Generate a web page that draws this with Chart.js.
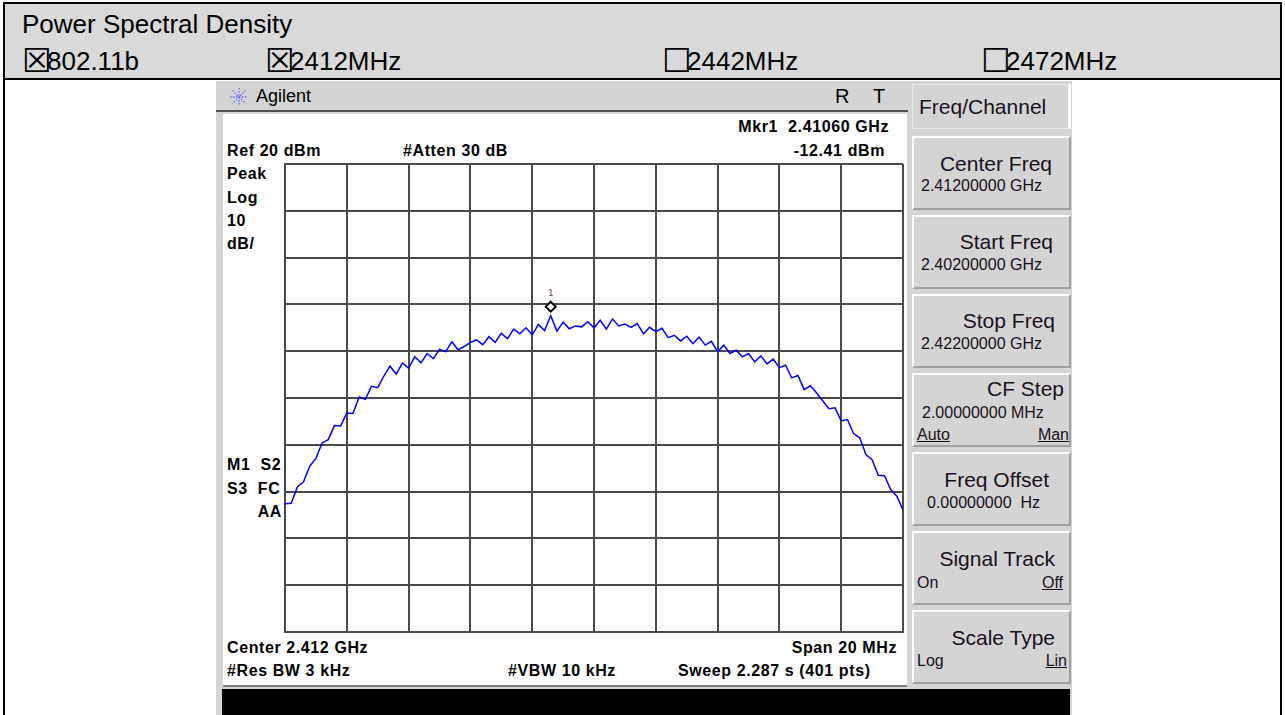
<!DOCTYPE html>
<html>
<head>
<meta charset="utf-8">
<script src="https://cdn.jsdelivr.net/npm/chart.js@4.4.0/dist/chart.umd.min.js"></script>
<style>
body { margin:0; width:1285px; height:715px; overflow:hidden; background:#fff; position:relative;
       font-family:"Liberation Sans", Arial, sans-serif; color:#000; }
.a { position:absolute; white-space:nowrap; }
.hdr { font-size:26px; line-height:30px; }
.cb { font-family:"DejaVu Sans"; font-size:33px; display:inline-block; width:25px; position:relative; top:2px; }
.lbl { font-weight:bold; font-size:16px; letter-spacing:0.6px; line-height:18px; }
.key { position:absolute; left:912px; width:159px; height:74px; background:#d4d4d4; box-sizing:border-box;
       border-top:2px solid #fff; border-left:2px solid #fff; border-right:2px solid #a0a0a0; border-bottom:2px solid #a0a0a0; }
.kt { font-size:21px; line-height:24px; color:#1a1020; }
.kv { font-size:16px; line-height:18px; color:#1a1020; }
.u { text-decoration:underline; }
</style>
</head>
<body>
<!-- table frame -->
<div class="a" style="left:5px;top:4px;width:1275px;height:74px;background:#d9d9d9"></div>
<div class="a" style="left:3px;top:2px;width:1279px;height:2px;background:#000"></div>
<div class="a" style="left:3px;top:78px;width:1279px;height:2px;background:#000"></div>
<div class="a" style="left:3px;top:2px;width:2px;height:713px;background:#000"></div>
<div class="a" style="left:1280px;top:2px;width:2px;height:713px;background:#000"></div>

<div class="a hdr" style="left:22px;top:9px">Power Spectral Density</div>
<div class="a hdr" style="left:22px;top:44px"><span class="cb">☒</span>802.11b</div>
<div class="a hdr" style="left:265px;top:44px"><span class="cb">☒</span>2412MHz</div>
<div class="a hdr" style="left:662px;top:44px"><span class="cb">☐</span>2442MHz</div>
<div class="a hdr" style="left:981px;top:44px"><span class="cb">☐</span>2472MHz</div>

<!-- analyzer screenshot -->
<div class="a" style="left:216px;top:81px;width:856px;height:634px;background:#d4d4d4"></div>
<div class="a" style="left:216px;top:110px;width:692px;height:2px;background:#505050"></div>
<div class="a" style="left:223px;top:114px;width:684px;height:571px;background:#fff;border-bottom:2px solid #808080"></div>
<div class="a" style="left:222px;top:689px;width:848px;height:26px;background:#000"></div>

<svg class="a" style="left:229px;top:87px" width="20" height="20" viewBox="0 0 20 20">
  <g stroke="#6a6af0" stroke-width="1.3" stroke-dasharray="1.5,1.5">
    <line x1="10" y1="1" x2="10" y2="19"/><line x1="1" y1="10" x2="19" y2="10"/>
    <line x1="3.5" y1="3.5" x2="16.5" y2="16.5"/><line x1="16.5" y1="3.5" x2="3.5" y2="16.5"/>
  </g>
</svg>
<div class="a" style="left:256px;top:85px;font-size:18px;line-height:22px">Agilent</div>
<div class="a" style="left:835px;top:84px;font-size:20px;line-height:24px">R</div>
<div class="a" style="left:873px;top:84px;font-size:20px;line-height:24px">T</div>

<div class="a lbl" style="right:396px;top:118px">Mkr1&nbsp; 2.41060 GHz</div>
<div class="a lbl" style="right:400px;top:142px">-12.41 dBm</div>
<div class="a lbl" style="left:227px;top:142px">Ref 20 dBm</div>
<div class="a lbl" style="left:403px;top:142px">#Atten 30 dB</div>
<div class="a lbl" style="left:227px;top:165px">Peak</div>
<div class="a lbl" style="left:227px;top:189px">Log</div>
<div class="a lbl" style="left:227px;top:212px">10</div>
<div class="a lbl" style="left:227px;top:235px">dB/</div>
<div class="a lbl" style="left:227px;top:456px">M1&nbsp; S2</div>
<div class="a lbl" style="left:227px;top:480px">S3&nbsp; FC</div>
<div class="a lbl" style="right:1003px;top:503px">AA</div>
<div class="a lbl" style="left:227px;top:639px">Center 2.412 GHz</div>
<div class="a lbl" style="right:388px;top:639px">Span 20 MHz</div>
<div class="a lbl" style="left:227px;top:662px">#Res BW 3 kHz</div>
<div class="a lbl" style="left:508px;top:662px">#VBW 10 kHz</div>
<div class="a lbl" style="left:678px;top:662px">Sweep 2.287 s (401 pts)</div>

<!-- softkeys -->
<div class="a" style="left:912px;top:84px;width:159px;height:45px;background:#d4d4d4;border:1px solid #e8e8e8;border-right:3px solid #fff;box-sizing:border-box"></div>
<div class="a kt" style="left:919px;top:95px">Freq/Channel</div>
<div class="key" style="top:136px"></div>
<div class="key" style="top:215px"></div>
<div class="key" style="top:294px"></div>
<div class="key" style="top:373px"></div>
<div class="key" style="top:452px"></div>
<div class="key" style="top:531px"></div>
<div class="key" style="top:610px"></div>
<div class="a kt" style="right:233px;top:152px">Center Freq</div>
<div class="a kv" style="left:921px;top:177px">2.41200000 GHz</div>
<div class="a kt" style="right:232px;top:230px">Start Freq</div>
<div class="a kv" style="left:921px;top:256px">2.40200000 GHz</div>
<div class="a kt" style="right:230px;top:309px">Stop Freq</div>
<div class="a kv" style="left:921px;top:335px">2.42200000 GHz</div>
<div class="a kt" style="right:221px;top:377px">CF Step</div>
<div class="a kv" style="left:922px;top:404px">2.00000000 MHz</div>
<div class="a kv u" style="left:917px;top:426px">Auto</div>
<div class="a kv u" style="right:216px;top:426px">Man</div>
<div class="a kt" style="right:236px;top:468px">Freq Offset</div>
<div class="a kv" style="left:927px;top:494px">0.00000000&nbsp; Hz</div>
<div class="a kt" style="right:230px;top:547px">Signal Track</div>
<div class="a kv" style="left:917px;top:574px">On</div>
<div class="a kv u" style="right:222px;top:574px">Off</div>
<div class="a kt" style="right:230px;top:626px">Scale Type</div>
<div class="a kv" style="left:917px;top:652px">Log</div>
<div class="a kv u" style="right:218px;top:652px">Lin</div>

<div class="a" style="left:280px;top:159px;width:628px;height:478px">
  <canvas id="psd" width="628" height="478"></canvas>
</div>

<script>
// sweep settings (GHz)
const startFreq = 2.402;
const stopFreq = 2.422;
const divFreq = 0.002;

// reference level / scale (dBm)
const refLevel = 20;
const bottomLevel = -80;
const dbPerDiv = 10;

// marker 1
const mkrFreq = 2.4106;
const mkrLevel = -12.41;

// trace, 101 points across the span
const psd = [
  -52.6, -52.5, -49.0, -47.9, -44.6, -42.9, -39.6, -38.9, -35.9, -36.0,
  -33.2, -33.3, -29.8, -30.3, -27.5, -27.8, -25.3, -23.2, -24.9, -22.5,
  -23.6, -21.2, -22.5, -20.5, -21.6, -19.6, -20.1, -18.0, -19.7, -19.0,
  -18.1, -17.6, -18.6, -16.9, -18.1, -16.2, -17.3, -15.3, -16.3, -15.0,
  -16.5, -14.3, -15.6, -12.41, -15.7, -13.8, -15.2, -14.6, -14.8, -13.7,
  -15.0, -13.4, -15.3, -13.1, -14.6, -14.2, -14.9, -14.1, -16.3, -14.9,
  -15.8, -15.1, -17.1, -16.6, -17.8, -16.8, -18.4, -17.0, -18.7, -17.9,
  -20.1, -18.7, -20.5, -19.8, -21.2, -20.5, -22.3, -21.0, -22.7, -21.7,
  -23.5, -23.0, -25.7, -25.2, -28.2, -27.4, -28.9, -30.6, -32.3, -32.1,
  -34.9, -34.6, -37.6, -38.5, -42.1, -43.2, -46.5, -46.6, -49.5, -51.0,
  -53.9
];

// frequency of each trace point
const freqs = psd.map((v, i) => startFreq + i * (stopFreq - startFreq) / (psd.length - 1));

// draws the diamond marker and its "1" label
const markerPlugin = {
  id: 'marker',
  afterDatasetsDraw(chart) {
    const ctx = chart.ctx;
    const x = chart.scales.x.getPixelForValue(mkrFreq);
    const y = chart.scales.y.getPixelForValue(mkrLevel) - 9;
    ctx.save();
    ctx.beginPath();
    ctx.moveTo(x, y - 5); ctx.lineTo(x + 5, y); ctx.lineTo(x, y + 5); ctx.lineTo(x - 5, y);
    ctx.closePath();
    ctx.fillStyle = '#fff';
    ctx.fill();
    ctx.lineWidth = 2;
    ctx.strokeStyle = '#000';
    ctx.stroke();
    ctx.fillStyle = '#803040';
    ctx.font = '9px "DejaVu Sans Mono", monospace';
    ctx.textAlign = 'center';
    ctx.fillText('1', x, y - 11);
    ctx.restore();
  }
};

new Chart(document.getElementById('psd'), {
  type: 'line',
  data: {
    datasets: [{
      data: freqs.map((f, i) => ({ x: f, y: psd[i] })),
      borderColor: '#0000ff',
      borderWidth: 1.5,
      pointRadius: 0,
      tension: 0
    }]
  },
  options: {
    responsive: false,
    animation: false,
    layout: { padding: 5 },
    plugins: { legend: { display: false }, tooltip: { enabled: false } },
    scales: {
      x: {
        type: 'linear', min: startFreq, max: stopFreq,
        ticks: { display: false, stepSize: divFreq },
        grid: { color: '#4a4a4a', lineWidth: 2, drawTicks: false },
        border: { color: '#4a4a4a', width: 2 }
      },
      y: {
        min: bottomLevel, max: refLevel,
        ticks: { display: false, stepSize: dbPerDiv },
        grid: { color: '#4a4a4a', lineWidth: 2, drawTicks: false },
        border: { color: '#4a4a4a', width: 2 }
      }
    }
  },
  plugins: [markerPlugin]
});
</script>
</body>
</html>
